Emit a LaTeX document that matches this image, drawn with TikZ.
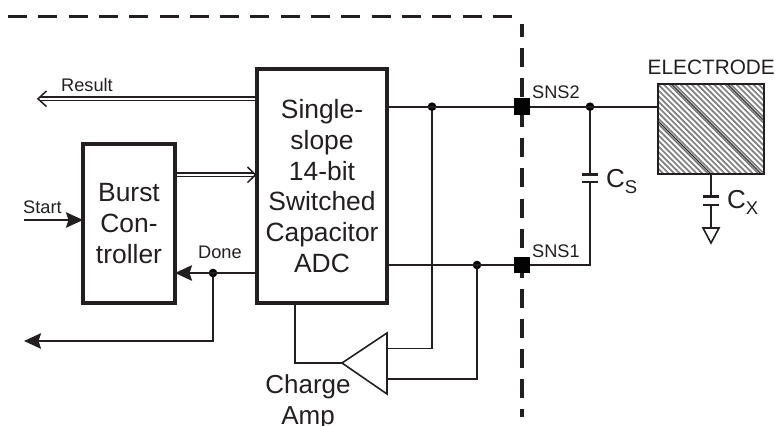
\documentclass[tikz,border=0pt]{standalone}
\usepackage{fontspec}
\setmainfont{Liberation Sans}
\usetikzlibrary{arrows.meta}
\definecolor{ink}{HTML}{231F20}
\tikzset{
  wire/.style={draw=ink,line width=1.6pt},
  boxed/.style={draw=ink,line width=3.4pt,fill=white,align=center,inner sep=0pt,outer sep=0pt,text=ink,font=\fontsize{26.4}{30.7}\selectfont},
  solidtip/.style={wire,-{Stealth[length=17pt,width=15.5pt,inset=2.5pt]}},
  rail/.style={draw=ink,line width=1.6pt},
  dblhead/.style={draw=ink,line width=1.5pt,line join=miter},
  junction/.style={circle,fill=black,minimum size=8.6pt,inner sep=0pt,outer sep=0pt},
  pad/.style={rectangle,fill=black!90!ink,minimum size=16.5pt,inner sep=0pt,outer sep=0pt},
  small/.style={anchor=base west,inner sep=0pt,text=ink,font=\fontsize{18.2}{18.2}\selectfont},
  biglabel/.style={anchor=base west,inner sep=0pt,text=ink,font=\fontsize{26}{26}\selectfont},
  boundary/.style={draw=ink,line width=3.8pt},
  plate/.style={draw=ink,line width=2.8pt},
  hatchline/.style={draw=black!50,line width=1.7pt},
  hatchdark/.style={draw=black!80,line width=1.1pt},
}
\newcommand{\subtext}[1]{\raisebox{-6.5pt}{\fontsize{18.5}{18.5}\selectfont #1}}
\begin{document}
\begin{tikzpicture}[x=1pt,y=-1pt]
\useasboundingbox (0,0) rectangle (775,425);
% boundary
\draw[boundary,dash pattern=on 19pt off 11.3pt] (8,16.5) -- (512,16.5);
\draw[boundary] (522,24) -- (522,37);
\draw[boundary,dash pattern=on 19pt off 11.1pt] (522,48) -- (522,417);
% nodes
\node[boxed,minimum width=130pt,minimum height=234pt] (adc) at (322,186) {Single-\\slope\\14-bit\\Switched\\Capacitor\\ADC};
\node[boxed,minimum width=92pt,minimum height=159pt] (burst) at (129,223.5) {Burst\\Con-\\troller};
\node[inner sep=0pt,outer sep=0pt,minimum width=106pt,minimum height=90pt] (el) at (711,129) {};
\node[pad] (sns2) at (522,106.7) {};
\node[pad] (sns1) at (522,265) {};
\node[junction] (j2) at (432,106.7) {};
\node[junction] (j1) at (477,265) {};
\node[junction] (js) at (590,106.7) {};
\node[junction] (jd) at (213,273) {};
% hatch
\begin{scope}
\clip (el.south west) rectangle (el.north east);
\foreach \c in {484,489.6,...,684} \draw[hatchline] ({\c+70},70) -- ({\c+190},190);
\draw[hatchdark] (607,70) -- (727,190);
\draw[hatchdark] (657.4,70) -- (777.4,190);
\draw[hatchdark] (713.4,70) -- (833.4,190);
\end{scope}
\draw[draw=ink,line width=1.8pt] (el.south west) rectangle (el.north east);
% coordinates
\coordinate (resultend) at (38,98.8);
\coordinate (startbeg) at (24,220);
\coordinate (doneout) at (24,341);
\coordinate (donecorner) at (213,341);
\coordinate (csT) at (590,174.5);
\coordinate (csB) at (590,182);
\coordinate (csL) at (582,174.5);
\coordinate (csR) at (598,174.5);
\coordinate (csL2) at (582,182);
\coordinate (csR2) at (598,182);
\coordinate (cxT) at (711,196.5);
\coordinate (cxB) at (711,205);
\coordinate (cxL) at (703,196.5);
\coordinate (cxR) at (719,196.5);
\coordinate (cxL2) at (703,205);
\coordinate (cxR2) at (719,205);
\coordinate (gndT) at (711,228);
\coordinate (gndL) at (703,228);
\coordinate (gndR) at (719,228);
\coordinate (gndP) at (711,243);
\coordinate (ampO) at (342,363);
\coordinate (ampA) at (387,333);
\coordinate (ampB) at (387,394);
\coordinate (ampI2) at (387,348.5);
\coordinate (ampI1) at (387,379);
\coordinate (adcout) at (295,303);
% connectors
\draw[rail] (adc.west |- 0,97) -- (40,97);
\draw[rail] (adc.west |- 0,100.7) -- (40,100.7);
\draw[dblhead] (46.5,91) -- (resultend) -- (46.5,106.6);
\draw[rail] (burst.east |- 0,173) -- (254,173);
\draw[rail] (burst.east |- 0,176.6) -- (254,176.6);
\draw[dblhead] (247.5,167) -- (255.5,174.8) -- (247.5,182.6);
\draw[solidtip] (startbeg) -- (burst.west |- startbeg);
\draw[solidtip] (adc.west |- jd) -- (burst.east |- jd);
\draw[solidtip] (jd) -- (donecorner) -- (doneout);
\draw[wire] (adc.east |- sns2) -- (sns2);
\draw[wire] (sns2) -- (el.west |- sns2);
\draw[wire] (adc.east |- sns1) -- (sns1);
\draw[wire] (sns1) -- (590,265) -- (csB);
\draw[wire] (js) -- (csT);
\draw[plate] (csL) -- (csR);
\draw[plate] (csL2) -- (csR2);
\draw[wire] (el.south) -- (cxT);
\draw[plate] (cxL) -- (cxR);
\draw[plate] (cxL2) -- (cxR2);
\draw[wire] (cxB) -- (gndT);
\draw[wire,line join=miter] (gndL) -- (gndR) -- (gndP) -- cycle;
\draw[wire,line join=miter] (ampO) -- (ampA) -- (ampB) -- cycle;
\draw[wire] (adcout) -- (adcout |- ampO) -- (ampO);
\draw[wire] (j2) -- (j2 |- ampI2) -- (ampI2);
\draw[wire] (j1) -- (j1 |- ampI1) -- (ampI1);
% labels
\node[small] (lresult) at (61,92) {Result};
\node[small] (lstart) at (23,213) {Start};
\node[small] (ldone) at (198,258) {Done};
\node[small] (lsns2) at (532,99) {SNS2};
\node[small] (lsns1) at (532,257) {SNS1};
\node[small,font=\fontsize{20.8}{20.8}\selectfont] (lel) at (647.5,75) {ELECTRODE};
\node[biglabel] (lcs) at (606,187) {C\subtext{S}};
\node[biglabel] (lcx) at (727,208) {C\subtext{X}};
\node[align=center,inner sep=0pt,text=ink,font=\fontsize{26}{30.7}\selectfont] (lamp) at (308,402) {Charge\\Amp};
\end{tikzpicture}
\end{document}
